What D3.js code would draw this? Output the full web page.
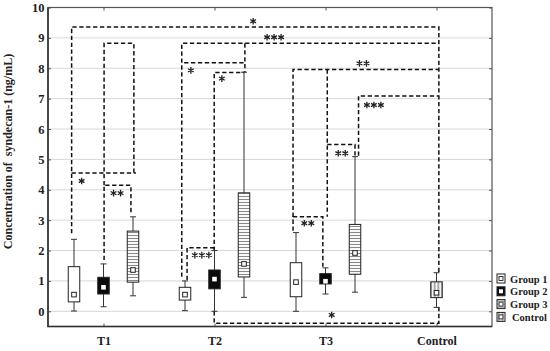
<!DOCTYPE html>
<html>
<head>
<meta charset="utf-8">
<script src="https://cdn.jsdelivr.net/npm/d3@7"></script>
<style>
  body { margin: 0; background: #fff; }
  svg { display: block; }
  text { font-family: "Liberation Serif", "Times New Roman", serif; font-weight: bold; fill: #222; }
</style>
</head>
<body>
<svg id="chart" width="550" height="351"></svg>
<script>
// Time points on the x axis and the groups drawn inside each one
var times = ["T1", "T2", "T3", "Control"];
var groups = ["Group 1", "Group 2", "Group 3"];
var legendLabels = ["Group 1", "Group 2", "Group 3", "Control"];
var yTicks = [0, 1, 2, 3, 4, 5, 6, 7, 8, 9, 10];

// One entry per box: time, group and the five summary values
var boxTime  = ["T1", "T1", "T1", "T2", "T2", "T2", "T3", "T3", "T3", "Control"];
var boxGroup = ["Group 1", "Group 2", "Group 3", "Group 1", "Group 2", "Group 3", "Group 1", "Group 2", "Group 3", "Control"];
var boxMin   = [0.01, 0.15, 0.51, 0.02, 0.00, 0.46, 0.00, 0.57, 0.63, 0.13];
var boxQ1    = [0.31, 0.57, 0.96, 0.37, 0.74, 1.13, 0.48, 0.90, 1.22, 0.45];
var boxMed   = [0.55, 0.79, 1.36, 0.55, 1.06, 1.56, 0.96, 0.99, 1.92, 0.61];
var boxQ3    = [1.47, 1.12, 2.64, 0.79, 1.36, 3.90, 1.60, 1.24, 2.86, 0.97];
var boxMax   = [2.37, 1.56, 3.11, 1.00, 2.00, 7.87, 2.59, 1.43, 5.09, 1.27];

// Significance brackets: polylines of [time, lane (group steps), value]
var brackets = [
    [["T1", -1.08, 2.57], ["T1", -1.08, 9.36], ["Control", 0.08, 9.36], ["Control", 0.08, 1.27]],
    [["T2", -1.11, 1.14], ["T2", -1.11, 8.82], ["Control", 0.08, 8.82]],
    [["T1", 0.02, 4.15], ["T1", 0.02, 8.82], ["T1", 1.03, 8.82], ["T1", 1.03, 4.55]],
    [["T1", -1.08, 4.55], ["T1", 1.10, 4.55]],
    [["T1", 0.02, 1.69], ["T1", 0.02, 4.15], ["T1", 0.93, 4.15], ["T1", 0.93, 3.23]],
    [["T2", -1.03, 8.18], ["T2", 1.03, 8.18]],
    [["T2", 1.03, 8.82], ["T2", 1.03, 7.86]],
    [["T2", -0.01, 1.99], ["T2", -0.01, 7.86], ["T2", 1.0, 7.86]],
    [["T2", -0.93, 1.03], ["T2", -0.93, 2.09], ["T2", -0.04, 2.09], ["T2", -0.04, 2.0]],
    [["T3", -1.1, 3.11], ["T3", -1.1, 7.96], ["Control", 0.08, 7.96]],
    [["T3", 0.06, 7.96], ["T3", 0.06, 3.11]],
    [["T3", -1.1, 2.65], ["T3", -1.1, 3.11], ["T3", -0.09, 3.11], ["T3", -0.09, 1.47]],
    [["T3", 0.06, 5.49], ["T3", 1.0, 5.49], ["T3", 1.0, 5.12]],
    [["T3", 1.12, 5.12], ["T3", 1.12, 7.09], ["Control", 0.08, 7.09]],
    [["T2", -0.01, 0], ["T2", -0.01, -0.39], ["Control", 0.08, -0.39], ["Control", 0.08, 0.13]]
];

// Star labels of the brackets (centre point)
var starText  = ["*", "***", "**", "*", "*", "***", "**", "**", "***", "*", "**", "*"];
var starTime  = ["T2", "T2", "T3", "T2", "T2", "T3", "T3", "T3", "T2", "T1", "T1", "T3"];
var starLane  = [1.31, 2.02, 1.27, -0.8, 0.25, 1.64, 0.55, -0.6, -0.43, -0.74, 0.46, 0.21];
var starValue = [9.55, 9.02, 8.16, 7.93, 7.66, 6.79, 5.2, 2.9, 1.85, 4.29, 3.89, -0.12];

var plotLeft = 48, plotRight = 492, plotTop = 7.5, plotBottom = 326.5;
var boxWidth = 11.5;
var capWidth = 6;
var starGap = 7;

var svg = d3.select("#chart");

var x = d3.scalePoint().domain(times).range([plotLeft, plotRight]).padding(0.5);
var y = d3.scaleLinear().domain([-0.5, 10]).range([plotBottom, plotTop]);
var lane = d3.scaleLinear().domain([-1, 1]).range([-29.5, 29.5]);
var groupLane = d3.scalePoint().domain(groups).range([-1, 1]);

function laneOf(g) { return g === "Control" ? 0 : groupLane(g); }
function px(t, l) { return x(t) + lane(l); }

// Patterns for Group 3 (horizontal stripes) and Control (vertical stripes)
var defs = svg.append("defs");
var hp = defs.append("pattern")
    .attr("id", "hstripe")
    .attr("patternUnits", "userSpaceOnUse")
    .attr("width", 6).attr("height", 3);
hp.append("rect").attr("width", 6).attr("height", 3).style("fill", "#fff");
hp.append("line")
    .attr("x1", 0).attr("x2", 6).attr("y1", 1.5).attr("y2", 1.5)
    .style("stroke", "#8a8a8a").style("stroke-width", 1.1);

var vp = defs.append("pattern")
    .attr("id", "vstripe")
    .attr("patternUnits", "userSpaceOnUse")
    .attr("width", 3.7).attr("height", 6);
vp.append("rect").attr("width", 3.7).attr("height", 6).style("fill", "#f4f4f4");
vp.append("line")
    .attr("x1", 1.85).attr("x2", 1.85).attr("y1", 0).attr("y2", 6)
    .style("stroke", "#666").style("stroke-width", 1);

// Gridlines
svg.selectAll(".grid")
    .data(yTicks.slice(0, -1))
    .enter().append("line")
    .attr("class", "grid")
    .attr("x1", plotLeft).attr("x2", plotRight)
    .attr("y1", function(d) { return y(d); })
    .attr("y2", function(d) { return y(d); })
    .style("stroke", "#d8d8d8")
    .style("stroke-width", 1);

// Axes (ticks point inward)
var yAxis = svg.append("g")
    .attr("transform", "translate(" + plotLeft + ",0)")
    .call(d3.axisLeft(y).tickValues(yTicks).tickSizeInner(-3).tickSizeOuter(0).tickPadding(3.5));
yAxis.select(".domain").remove();
yAxis.selectAll("text").style("font-size", "12.5px").style("fill", "#222");
yAxis.selectAll("line").style("stroke", "#555");

var rAxis = svg.append("g")
    .attr("transform", "translate(" + plotRight + ",0)")
    .call(d3.axisRight(y).tickValues(yTicks).tickSizeInner(-3).tickSizeOuter(0).tickFormat(""));
rAxis.select(".domain").remove();
rAxis.selectAll("line").style("stroke", "#555");

var xAxis = svg.append("g")
    .attr("transform", "translate(0," + plotBottom + ")")
    .call(d3.axisBottom(x).tickSizeInner(-3).tickSizeOuter(0).tickPadding(9.5));
xAxis.select(".domain").remove();
xAxis.selectAll("text").style("font-size", "12px").style("fill", "#222");
xAxis.selectAll("line").style("stroke", "#555");

var tAxis = svg.append("g")
    .attr("transform", "translate(0," + plotTop + ")")
    .call(d3.axisTop(x).tickSizeInner(-3).tickSizeOuter(0).tickFormat(""));
tAxis.select(".domain").remove();
tAxis.selectAll("line").style("stroke", "#555");

// Plot frame
svg.append("rect")
    .attr("x", plotLeft).attr("y", plotTop)
    .attr("width", plotRight - plotLeft).attr("height", plotBottom - plotTop)
    .style("fill", "none")
    .style("stroke", "#555")
    .style("stroke-width", 1.2);
svg.append("path")
    .attr("d", "M" + plotLeft + "," + plotTop + "V" + plotBottom + "H" + plotRight)
    .style("fill", "none")
    .style("stroke", "#333")
    .style("stroke-width", 1.6);

// Y axis title
svg.append("text")
    .attr("transform", "translate(11.5,151.5) rotate(-90)")
    .attr("text-anchor", "middle")
    .style("font-size", "12px")
    .style("white-space", "pre")
    .text("Concentration of  syndecan-1 (ng/mL)");

// Significance brackets
var bracketLine = d3.line()
    .x(function(d) { return px(d[0], d[1]); })
    .y(function(d) { return y(d[2]); });

svg.selectAll(".bracket")
    .data(brackets)
    .enter().append("path")
    .attr("class", "bracket")
    .attr("d", bracketLine)
    .style("fill", "none")
    .style("stroke", "#111")
    .style("stroke-width", 1.5)
    .style("stroke-dasharray", "4.3,2.6");

// Box plots
var boxes = boxTime.map(function(t, i) {
    return { time: t, group: boxGroup[i], min: boxMin[i], q1: boxQ1[i], med: boxMed[i], q3: boxQ3[i], max: boxMax[i] };
});

function boxFill(g) {
    if (g === "Group 2") return "#0b0b0b";
    if (g === "Group 3") return "url(#hstripe)";
    if (g === "Control") return "url(#vstripe)";
    return "#fff";
}

var bg = svg.selectAll(".box")
    .data(boxes)
    .enter().append("g")
    .attr("class", "box")
    .attr("transform", function(d) { return "translate(" + px(d.time, laneOf(d.group)) + ",0)"; });

// whiskers
bg.append("line")
    .attr("x1", 0).attr("x2", 0)
    .attr("y1", function(d) { return y(d.max); })
    .attr("y2", function(d) { return y(d.min); })
    .style("stroke", "#333").style("stroke-width", 1);
bg.append("line")
    .attr("x1", -capWidth / 2).attr("x2", capWidth / 2)
    .attr("y1", function(d) { return y(d.max); })
    .attr("y2", function(d) { return y(d.max); })
    .style("stroke", "#333").style("stroke-width", 1);
bg.append("line")
    .attr("x1", -capWidth / 2).attr("x2", capWidth / 2)
    .attr("y1", function(d) { return y(d.min); })
    .attr("y2", function(d) { return y(d.min); })
    .style("stroke", "#333").style("stroke-width", 1);

// box
bg.append("rect")
    .attr("x", -boxWidth / 2)
    .attr("width", boxWidth)
    .attr("y", function(d) { return y(d.q3); })
    .attr("height", function(d) { return y(d.q1) - y(d.q3); })
    .style("fill", function(d) { return boxFill(d.group); })
    .style("stroke", "#222")
    .style("stroke-width", 1);

// median marker
bg.append("rect")
    .attr("x", -2.3).attr("width", 4.6)
    .attr("y", function(d) { return y(d.med) - 2.3; })
    .attr("height", 4.6)
    .style("fill", "#fff")
    .style("stroke", function(d) { return d.group === "Group 2" ? "none" : "#222"; })
    .style("stroke-width", 1);

// Stars: one asterisk symbol per character of the label
var asterisk = d3.symbol().type(d3.symbolAsterisk).size(30);

var starGroups = svg.selectAll(".stars")
    .data(starText)
    .enter().append("g")
    .attr("class", "stars")
    .attr("transform", function(d, i) {
        return "translate(" + px(starTime[i], starLane[i]) + "," + y(starValue[i]) + ")";
    });

starGroups.selectAll("path")
    .data(function(d) { return d3.range(d.length).map(function(k) { return (k - (d.length - 1) / 2) * starGap; }); })
    .enter().append("path")
    .attr("transform", function(d) { return "translate(" + d + ",0)"; })
    .attr("d", asterisk)
    .style("fill", "none")
    .style("stroke", "#222")
    .style("stroke-width", 1.3);

// Legend
var legend = svg.append("g")
    .attr("transform", "translate(497,274)");

var items = legend.selectAll(".legend-item")
    .data(legendLabels)
    .enter().append("g")
    .attr("class", "legend-item")
    .attr("transform", function(d, i) { return "translate(0," + (i * 12.8) + ")"; });

items.append("rect")
    .attr("width", 8).attr("height", 9)
    .style("fill", function(d) { return boxFill(d); })
    .style("stroke", "#222")
    .style("stroke-width", 1);

items.append("rect")
    .attr("x", 2).attr("y", 2.5).attr("width", 4).attr("height", 4)
    .style("fill", "#fff")
    .style("stroke", function(d) { return d === "Group 2" ? "none" : "#222"; })
    .style("stroke-width", 0.9);

items.append("text")
    .attr("x", function(d) { return d === "Control" ? 15 : 13; })
    .attr("y", 8.5)
    .style("font-size", "10.5px")
    .text(function(d) { return d; });
</script>
</body>
</html>
